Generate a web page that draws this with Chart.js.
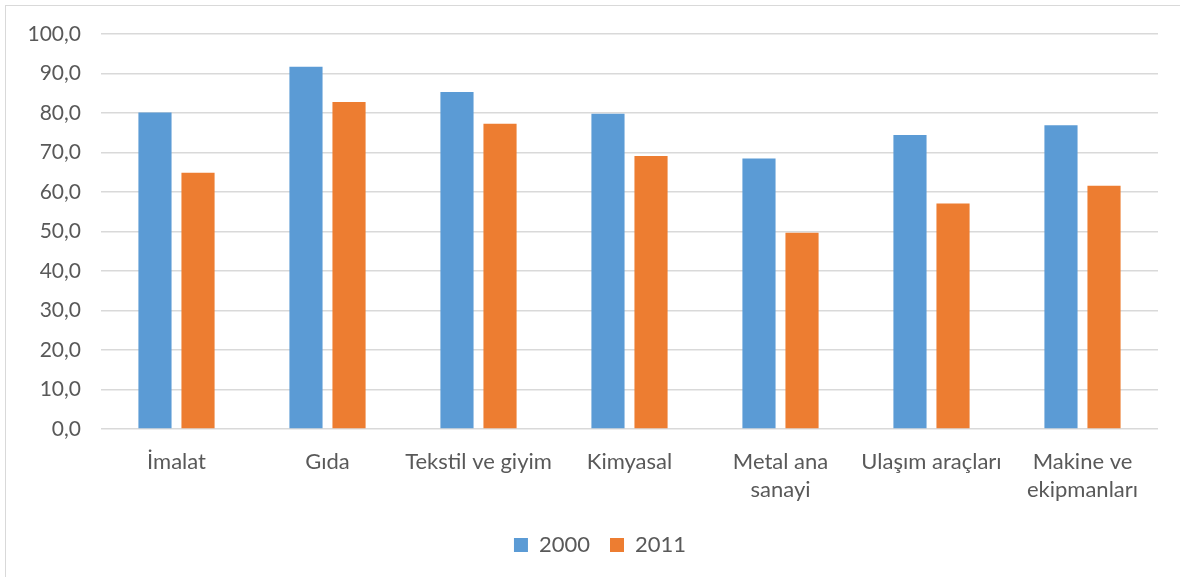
<!DOCTYPE html>
<html>
<head>
<meta charset="utf-8">
<script src="https://cdn.jsdelivr.net/npm/chart.js@4"></script>
<style>
  html, body { margin: 0; padding: 0; background: #fff; }
  #wrap { position: relative; width: 1180px; height: 577px; }
  #frame { position: absolute; left: 5px; top: 5px; right: 0; bottom: 0;
           border-top: 1px solid #d9d9d9; border-left: 1px solid #d9d9d9; pointer-events: none; }
</style>
</head>
<body>
<div id="wrap">
  <canvas id="myChart" width="1180" height="577"></canvas>
  <div id="frame"></div>
</div>
<script>
const categories = ["İmalat", "Gıda", "Tekstil ve giyim", "Kimyasal", ["Metal ana", "sanayi"], "Ulaşım araçları", ["Makine ve", "ekipmanları"]];
const values2000 = [80.1, 91.7, 85.3, 79.8, 68.5, 74.4, 76.9];
const values2011 = [64.9, 82.8, 77.3, 69.1, 49.7, 57.1, 61.6];
const seriesNames = ["2000", "2011"];

const ctx = document.getElementById("myChart");
const textColor = "#595959";
const fontFamily = "Lato, 'Open Sans', sans-serif";

// nudge the legend a bit to the right, like the original
const legendShift = {
  id: "legendShift",
  afterLayout(chart) {
    chart.legend.left += 21;
    chart.legend.right += 21;
  },
};

let myChart = new Chart(ctx, {
  type: "bar",
  data: {
    labels: categories,
    datasets: [
      {
        label: seriesNames[0],
        data: values2000,
        backgroundColor: "#5b9bd5",
        categoryPercentage: 0.57,
        barPercentage: 0.77,
      },
      {
        label: seriesNames[1],
        data: values2011,
        backgroundColor: "#ed7d31",
        categoryPercentage: 0.57,
        barPercentage: 0.77,
      },
    ],
  },
  plugins: [legendShift],
  options: {
    responsive: false,
    animation: false,
    layout: { padding: { left: 0, right: 22, top: 34, bottom: 11 } },
    plugins: {
      tooltip: { enabled: false },
      legend: {
        position: "bottom",
        labels: {
          color: textColor,
          font: { family: fontFamily, size: 22 },
          boxWidth: 14,
          boxHeight: 14,
          padding: 20,
        },
      },
    },
    scales: {
      x: {
        grid: { display: false, drawTicks: false },
        border: { display: false },
        ticks: {
          color: textColor,
          font: { family: fontFamily, size: 22, lineHeight: 1.27 },
          padding: 19,
          maxRotation: 0,
          autoSkip: false,
        },
        afterFit: (scale) => { scale.height = 85; },
      },
      y: {
        min: 0,
        max: 100,
        grid: { color: "#d9d9d9", lineWidth: 1.5, drawTicks: false },
        border: { display: false },
        ticks: {
          stepSize: 10,
          color: textColor,
          font: { family: fontFamily, size: 21 },
          padding: 20,
          callback: (v) => v.toFixed(1).replace(".", ","),
        },
        afterFit: (scale) => { scale.width = 101; },
      },
    },
  },
});
</script>
</body>
</html>
